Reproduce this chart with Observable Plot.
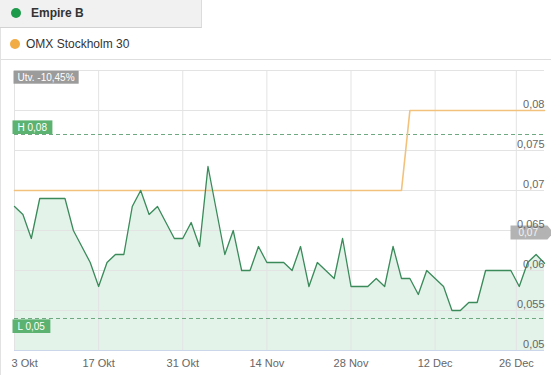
<!DOCTYPE html>
<html>
<head>
<meta charset="utf-8">
<script src="https://cdn.jsdelivr.net/npm/d3@7"></script>
<script src="https://cdn.jsdelivr.net/npm/@observablehq/plot@0.6"></script>
<style>
  html, body { margin: 0; padding: 0; background: #fff; }
  body { width: 551px; height: 375px; overflow: hidden; position: relative; font-family: "Liberation Sans", Arial, sans-serif; }
  #tab1 { position: absolute; left: 0; top: 0; width: 201px; height: 27px; background: #f1f1f1; border-right: 1px solid #dcdcdc; border-bottom: 1px solid #d2d2d2; }
  #sep { position: absolute; left: 0; top: 59px; width: 551px; height: 1px; background: #dedede; }
  #leftline { position: absolute; left: 0; top: 28px; width: 1px; height: 347px; background: #e2e2e2; }
  .dot { position: absolute; border-radius: 50%; }
  .lbl { position: absolute; font-size: 12px; color: #333; white-space: nowrap; line-height: 14px; }
  #chart { position: absolute; left: 0; top: 60px; }
</style>
</head>
<body>
<div id="tab1"></div>
<div class="dot" style="left:11px;top:8px;width:10px;height:10px;background:#1e9a4b;"></div>
<div class="lbl" style="left:31px;top:6px;font-weight:bold;">Empire B</div>
<div class="dot" style="left:10px;top:39px;width:10px;height:10px;background:#f2ac45;"></div>
<div class="lbl" style="left:26px;top:37px;">OMX Stockholm 30</div>
<div id="sep"></div>
<div id="chart"></div>
<div id="leftline"></div>
<script>
// ---- data ----
const seriesNames = ["Empire B", "OMX Stockholm 30"];
// one value per trading day, 3 Okt 2016 .. 30 Dec 2016 (ordinal axis)
const empireB = [
  0.068, 0.067, 0.064, 0.069, 0.069, 0.069, 0.069, 0.065, 0.063, 0.061,
  0.058, 0.061, 0.062, 0.062, 0.068, 0.070, 0.067, 0.068, 0.066, 0.064,
  0.064, 0.066, 0.063, 0.073, 0.0675, 0.062, 0.065, 0.060, 0.060, 0.063,
  0.061, 0.061, 0.061, 0.060, 0.063, 0.058, 0.061, 0.060, 0.059, 0.064,
  0.058, 0.058, 0.058, 0.059, 0.058, 0.063, 0.059, 0.059, 0.057, 0.060,
  0.059, 0.058, 0.055, 0.055, 0.056, 0.056, 0.060, 0.060, 0.060, 0.060,
  0.058, 0.061, 0.062, 0.0609
];
const omxStockholm = [
  0.07, 0.07, 0.07, 0.07, 0.07, 0.07, 0.07, 0.07, 0.07, 0.07,
  0.07, 0.07, 0.07, 0.07, 0.07, 0.07, 0.07, 0.07, 0.07, 0.07,
  0.07, 0.07, 0.07, 0.07, 0.07, 0.07, 0.07, 0.07, 0.07, 0.07,
  0.07, 0.07, 0.07, 0.07, 0.07, 0.07, 0.07, 0.07, 0.07, 0.07,
  0.07, 0.07, 0.07, 0.07, 0.07, 0.07, 0.07, 0.08, 0.08, 0.08,
  0.08, 0.08, 0.08, 0.08, 0.08, 0.08, 0.08, 0.08, 0.08, 0.08,
  0.08, 0.08, 0.08, 0.08
];
const xTickPositions = [0, 10, 20, 30, 40, 50, 59.65]; // trading-day index of each date tick
const xTickLabels = ["3 Okt", "17 Okt", "31 Okt", "14 Nov", "28 Nov", "12 Dec", "26 Dec"];
const yTicks = [0.05, 0.055, 0.06, 0.065, 0.07, 0.075, 0.08];
const yGrid = [0.05, 0.055, 0.06, 0.065, 0.07, 0.075, 0.08, 0.085];
const yDomain = [0.05, 0.085];
const highValue = 0.077, highLabel = "H 0,08";
const lowValue = 0.054, lowLabel = "L 0,05";
const changeLabel = "Utv. -10,45%";
const lastTagValue = 0.0647, lastTagLabel = "0,07";

// ---- build ----
const empireData = empireB.map((v, i) => ({i, v}));
const omxData = omxStockholm.map((v, i) => ({i, v}));
const fmt = d => String(+d.toFixed(3)).replace(".", ",");
const tickIdx = xTickLabels.map((_, i) => i);
const font = "Liberation Sans, Arial, sans-serif";

const chart = Plot.plot({
  width: 551,
  height: 315,
  marginTop: 10,
  marginBottom: 25,
  marginLeft: 14,
  marginRight: 7,
  style: {fontFamily: font, background: "transparent", overflow: "visible"},
  x: {domain: [0, empireB.length - 1], axis: null},
  y: {domain: yDomain, axis: null},
  marks: [
    Plot.areaY(empireData, {x: "i", y1: () => yDomain[0], y2: "v", fill: "#27a353", fillOpacity: 0.13}),
    Plot.gridY(yGrid, {stroke: "#e3e3e3", strokeOpacity: 1}),
    Plot.gridX(xTickPositions, {stroke: "#e3e3e3", strokeOpacity: 1}),
    Plot.ruleY([yDomain[0]], {stroke: "#ccd6eb"}),
    Plot.ruleY([highValue], {stroke: "#6fa982", strokeDasharray: "4,3"}),
    Plot.ruleY([lowValue], {stroke: "#6fa982", strokeDasharray: "4,3"}),
    Plot.lineY(omxData, {x: "i", y: "v", stroke: "#f2c27c", strokeWidth: 1.6}),
    Plot.lineY(empireData, {x: "i", y: "v", stroke: "#3a8a5a", strokeWidth: 1.3}),
    // current value tag
    Plot.text([lastTagValue], {y: d => d, frameAnchor: "right", textAnchor: "start", dx: -26, text: () => lastTagLabel,
      fill: "#f4f4f4", fontSize: 10, className: "tag-arrow"}),
    // y labels
    Plot.text(yTicks, {y: d => d, frameAnchor: "right", textAnchor: "end", dy: -6, text: fmt, fill: "#666", fontSize: 11}),
    // x labels
    Plot.text([0], {x: i => xTickPositions[i], frameAnchor: "bottom", dy: 16, dx: -3, textAnchor: "start",
      text: i => xTickLabels[i], fill: "#666", fontSize: 11}),
    Plot.text(tickIdx.slice(1), {x: i => xTickPositions[i], frameAnchor: "bottom", dy: 16,
      text: i => xTickLabels[i], fill: "#666", fontSize: 11}),
    // annotations
    Plot.text([changeLabel], {frameAnchor: "top-left", textAnchor: "start", lineAnchor: "middle", dx: 3, dy: 7,
      text: d => d, fill: "#fff", fontSize: 10, className: "tag-gray"}),
    Plot.text([highValue], {y: d => d, frameAnchor: "left", textAnchor: "start", dx: 3, dy: -7,
      text: () => highLabel, fill: "#fff", fontSize: 10, className: "tag-green"}),
    Plot.text([lowValue], {y: d => d, frameAnchor: "left", textAnchor: "start", dx: 3, dy: 8,
      text: () => lowLabel, fill: "#fff", fontSize: 10, className: "tag-green"})
  ]
});
document.getElementById("chart").appendChild(chart);

// label backgrounds
function boxes(cls, fill, padL, padR, padY, arrow) {
  d3.select(chart).selectAll(`g.${cls} text`).each(function() {
    const b = this.getBBox();
    const tr = this.getAttribute("transform");
    const x0 = b.x - padL, x1 = b.x + b.width + padR, y0 = b.y - padY, y1 = b.y + b.height + padY;
    const g = d3.select(this.parentNode);
    if (arrow) {
      const ym = (y0 + y1) / 2;
      g.insert("path", () => this)
        .attr("d", `M${x0},${y0}H${x1}L${x1 + 6},${ym}L${x1},${y1}H${x0}Z`)
        .attr("fill", fill).attr("transform", tr);
    } else {
      g.insert("rect", () => this)
        .attr("x", x0).attr("y", y0).attr("width", x1 - x0).attr("height", y1 - y0)
        .attr("fill", fill).attr("transform", tr);
    }
  });
}
boxes("tag-gray", "#9b9b9b", 4, 4, 1);
boxes("tag-green", "#5cb270", 5, 5, 1.3);
boxes("tag-arrow", "#b3b3b3", 8, 9, 1.5, true);
</script>
</body>
</html>
